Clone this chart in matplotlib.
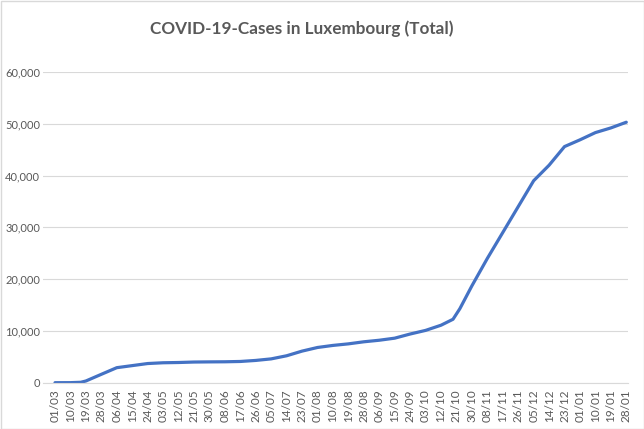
import numpy as np
import pandas as pd
import matplotlib
matplotlib.use('Agg')
import matplotlib.pyplot as plt
import matplotlib.dates as mdates
from matplotlib.patches import Rectangle
from matplotlib.ticker import FuncFormatter

plt.rcParams['font.family'] = ['Lato', 'DejaVu Sans']

# values (cumulative cases)
dates = ['2020-03-01', '2020-03-10', '2020-03-16', '2020-03-19', '2020-03-28',
         '2020-04-06', '2020-04-15', '2020-04-24', '2020-05-03', '2020-05-12',
         '2020-05-21', '2020-05-30', '2020-06-08', '2020-06-17', '2020-06-26',
         '2020-07-05', '2020-07-14', '2020-07-23', '2020-08-01', '2020-08-10',
         '2020-08-19', '2020-08-28', '2020-09-06', '2020-09-15', '2020-09-24',
         '2020-10-03', '2020-10-12', '2020-10-19', '2020-10-23', '2020-10-30',
         '2020-11-08', '2020-11-17', '2020-11-26', '2020-12-05', '2020-12-14',
         '2020-12-23', '2021-01-01', '2021-01-10', '2021-01-19', '2021-01-28']
cases = [2, 10, 80, 330, 1620,
         2900, 3300, 3700, 3850, 3900,
         3990, 4020, 4040, 4100, 4300,
         4600, 5200, 6100, 6800, 7200,
         7500, 7900, 8200, 8600, 9400,
         10100, 11100, 12250, 14300, 18700,
         24000, 29000, 34000, 39000, 42000,
         45600, 46900, 48300, 49200, 50300]

title = 'COVID-19-Cases in Luxembourg (Total)'

x = pd.to_datetime(dates)
ticks = pd.date_range('2020-03-01', '2021-01-28', freq='9D')

fig = plt.figure(figsize=(6.44, 4.29), dpi=100)
ax = fig.add_axes([43/644, 1 - 382.7/429, 585/644, (382.7 - 72)/429])

ax.plot(x, cases, color='#4472C4', linewidth=2.3, solid_capstyle='round')

ax.set_ylim(0, 60000)
ax.set_yticks(np.arange(0, 60001, 10000))
ax.yaxis.set_major_formatter(FuncFormatter(lambda v, p: f'{int(v):,}'))
ax.set_xlim(pd.Timestamp('2020-02-23'), pd.Timestamp('2021-01-29'))
ax.set_xticks(ticks)
ax.xaxis.set_major_formatter(mdates.DateFormatter('%d/%m'))

ax.grid(axis='y', color='#d9d9d9', linewidth=0.8)
ax.set_axisbelow(True)
for s in ['top', 'right', 'left']:
    ax.spines[s].set_visible(False)
ax.spines['bottom'].set_color('#d9d9d9')
ax.tick_params(axis='both', length=0, colors='#595959')
ax.tick_params(axis='x', rotation=90, pad=5, labelsize=8.5)
ax.tick_params(axis='y', pad=2, labelsize=8)

fig.text(302/644, 1 - 29/429, title, ha='center', va='center',
         fontsize=12.3, color='#595959', fontweight='bold')

fig.patches.append(Rectangle((0.5/644, 0.5/429), 1 - 1/644, 1 - 1/429,
                             transform=fig.transFigure, fill=False,
                             edgecolor='#d9d9d9', linewidth=1))

fig.savefig('out.png', dpi=100)
